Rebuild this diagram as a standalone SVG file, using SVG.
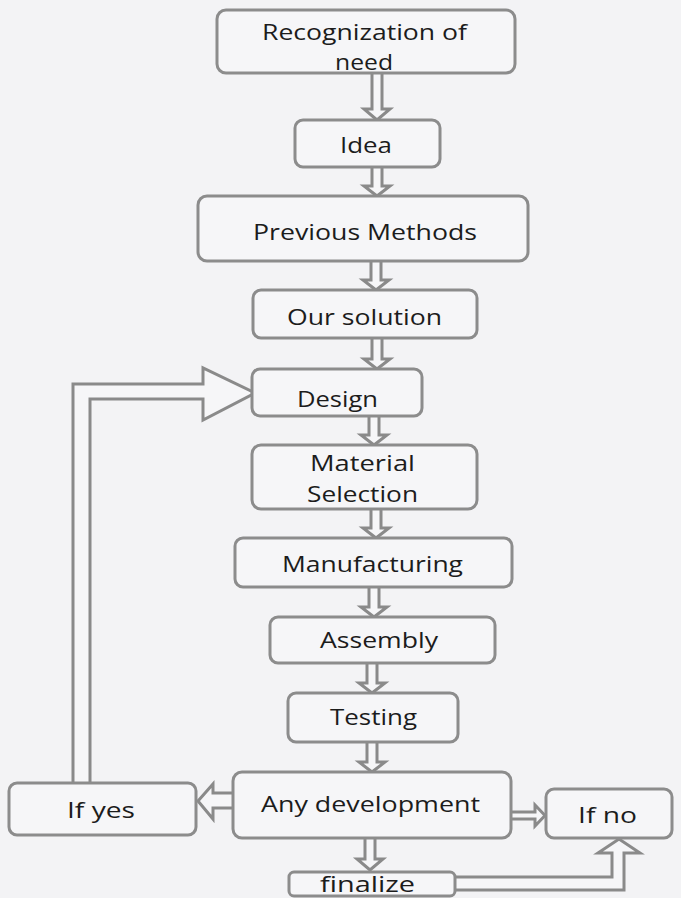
<svg xmlns="http://www.w3.org/2000/svg" width="681" height="898" viewBox="0 0 681 898">
<style>
.box{fill:#f6f6f8;stroke:#8c8c8c;stroke-width:3}
.lbl{font-family:"Open Sans","Liberation Sans",sans-serif;font-size:22px;fill:#1c1c1c}
.arr{fill:#f6f6f8;stroke:#8a8a8a;stroke-width:3;stroke-linejoin:miter}
</style>
<rect x="0" y="0" width="681" height="898" fill="#f3f3f5"/>
<g id="connectors">
<path class="arr" d="M372,73 V109 H364 L377,120 L390,109 H382 V73"/>
<path class="arr" d="M372,167 V186 H364 L377,196 L390,186 H382 V167"/>
<path class="arr" d="M371,261 V280 H363 L376,290 L389,280 H381 V261"/>
<path class="arr" d="M372,338 V359 H364 L377,369 L390,359 H382 V338"/>
<path class="arr" d="M369,416 V435 H361 L374,445 L387,435 H379 V416"/>
<path class="arr" d="M371,509 V528 H363 L376,538 L389,528 H381 V509"/>
<path class="arr" d="M369,587 V607 H361 L374,617 L387,607 H379 V587"/>
<path class="arr" d="M367,663 V683 H359 L372,693 L385,683 H377 V663"/>
<path class="arr" d="M367,742 V762 H359 L372,772 L385,762 H377 V742"/>
<path class="arr" d="M365,838 V859 H357 L370,870 L383,859 H375 V838"/>
<path class="arr" d="M233,793 H213 V784 L198,801 L213,819 V808 H233"/>
<path class="arr" d="M511,812 H535 V805 L545,815.5 L535,826 V819 H511"/>
<path class="arr" d="M455,877 H612 V853 H598 L619,839 L640,853 H624 V890 H455"/>
<path class="arr" d="M73,783 V384 H203 V368 L255,393 L203,420 V399 H90 V783"/>
</g>
<g id="n1"><rect class="box" x="217" y="10" width="298" height="63" rx="9"/>
<text class="lbl" x="262" y="40" textLength="205" lengthAdjust="spacingAndGlyphs">Recognization of</text>
<text class="lbl" x="335" y="70" textLength="58" lengthAdjust="spacingAndGlyphs">need</text></g>
<g id="n2"><rect class="box" x="295" y="120" width="145" height="47" rx="8"/>
<text class="lbl" x="340" y="153" textLength="52" lengthAdjust="spacingAndGlyphs">Idea</text></g>
<g id="n3"><rect class="box" x="198" y="196" width="330" height="65" rx="9"/>
<text class="lbl" x="253" y="240" textLength="224" lengthAdjust="spacingAndGlyphs">Previous Methods</text></g>
<g id="n4"><rect class="box" x="253" y="290" width="224" height="48" rx="8"/>
<text class="lbl" x="287" y="325" textLength="155" lengthAdjust="spacingAndGlyphs">Our solution</text></g>
<g id="n5"><rect class="box" x="252" y="369" width="170" height="47" rx="8"/>
<text class="lbl" x="297" y="407" textLength="81" lengthAdjust="spacingAndGlyphs">Design</text></g>
<g id="n6"><rect class="box" x="252" y="445" width="225" height="64" rx="9"/>
<text class="lbl" x="310" y="471" textLength="105" lengthAdjust="spacingAndGlyphs">Material</text>
<text class="lbl" x="307" y="502" textLength="111" lengthAdjust="spacingAndGlyphs">Selection</text></g>
<g id="n7"><rect class="box" x="235" y="538" width="277" height="49" rx="8"/>
<text class="lbl" x="282" y="572" textLength="181" lengthAdjust="spacingAndGlyphs">Manufacturing</text></g>
<g id="n8"><rect class="box" x="270" y="617" width="225" height="46" rx="8"/>
<text class="lbl" x="320" y="648" textLength="118" lengthAdjust="spacingAndGlyphs">Assembly</text></g>
<g id="n9"><rect class="box" x="288" y="693" width="170" height="49" rx="8"/>
<text class="lbl" x="330" y="725" textLength="87" lengthAdjust="spacingAndGlyphs">Testing</text></g>
<g id="n10"><rect class="box" x="233" y="772" width="278" height="66" rx="9"/>
<text class="lbl" x="261" y="812" textLength="219" lengthAdjust="spacingAndGlyphs">Any development</text></g>
<g id="n11"><rect class="box" x="9" y="783" width="187" height="52" rx="8"/>
<text class="lbl" x="67" y="818" textLength="68" lengthAdjust="spacingAndGlyphs">If yes</text></g>
<g id="n12"><rect class="box" x="546" y="789" width="126" height="49" rx="8"/>
<text class="lbl" x="578" y="823" textLength="59" lengthAdjust="spacingAndGlyphs">If no</text></g>
<g id="n13"><rect class="box" x="289" y="872" width="166" height="24" rx="5"/>
<text class="lbl" x="320" y="892" textLength="95" lengthAdjust="spacingAndGlyphs">finalize</text></g>
</svg>
